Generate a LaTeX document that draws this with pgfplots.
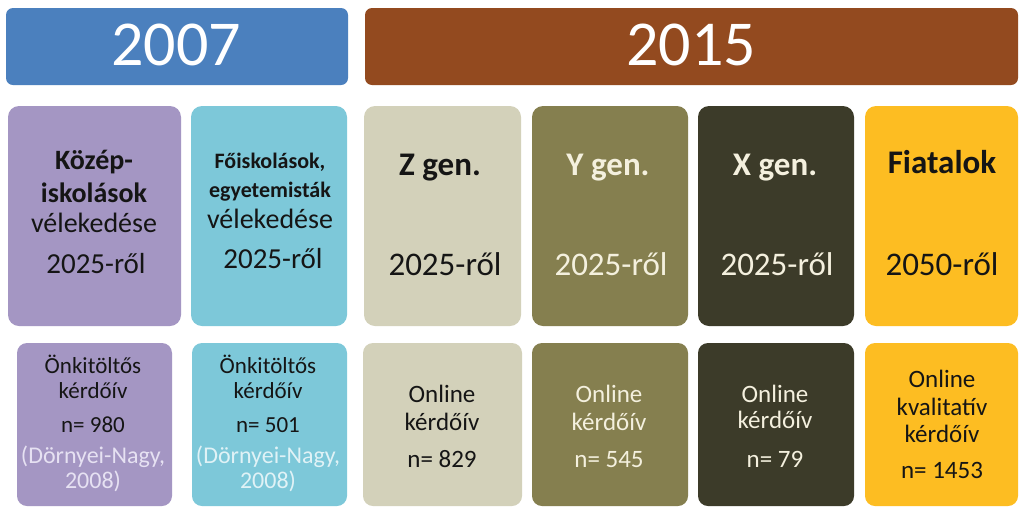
\documentclass[border=0pt]{standalone}
\usepackage{pgfplots}
\pgfplotsset{compat=1.18}
\usepackage{fontspec}
\setmainfont{Carlito}
\definecolor{cBlue}{HTML}{4B80BE}
\definecolor{cBrown}{HTML}{934A1F}
\definecolor{cPurple}{HTML}{A496C3}
\definecolor{cCyan}{HTML}{7DC8D9}
\definecolor{cZ}{HTML}{D3D1BA}
\definecolor{cY}{HTML}{857F4F}
\definecolor{cX}{HTML}{3C3B29}
\definecolor{cF}{HTML}{FDBD22}
\definecolor{tDark}{HTML}{151515}
\definecolor{tLight}{HTML}{F4F0DE}
\definecolor{tRefP}{HTML}{E6E1F2}
\definecolor{tRefC}{HTML}{E0F2F6}
\newcommand{\fs}[1]{\fontsize{#1}{#1}\selectfont}
\begin{document}
\begin{tikzpicture}
\begin{axis}[
  width=1020pt, height=507pt, scale only axis,
  xmin=0, xmax=1020, ymin=0, ymax=507, y dir=reverse,
  hide axis, clip=true,
]
% background
\addplot[fill=white, draw=none] coordinates {(0,0) (1020,0) (1020,507) (0,507)} -- cycle;
% header boxes
\addplot[fill=cBlue, draw=none, rounded corners=7pt] coordinates {(177,8) (348,8) (348,85) (6,85) (6,8)} -- cycle;
\addplot[fill=cBrown, draw=none, rounded corners=7pt] coordinates {(690,8) (1018,8) (1018,85) (365,85) (365,8)} -- cycle;
% row 2 boxes
\addplot[fill=cPurple, draw=none, rounded corners=11pt] coordinates {(94,106) (181,106) (181,326) (8,326) (8,106)} -- cycle;
\addplot[fill=cCyan, draw=none, rounded corners=11pt] coordinates {(269,106) (347,106) (347,326) (191,326) (191,106)} -- cycle;
\addplot[fill=cZ, draw=none, rounded corners=11pt] coordinates {(442,106) (521,106) (521,326) (364,326) (364,106)} -- cycle;
\addplot[fill=cY, draw=none, rounded corners=11pt] coordinates {(610,106) (688,106) (688,326) (532,326) (532,106)} -- cycle;
\addplot[fill=cX, draw=none, rounded corners=11pt] coordinates {(776,106) (854,106) (854,326) (698,326) (698,106)} -- cycle;
\addplot[fill=cF, draw=none, rounded corners=11pt] coordinates {(941,106) (1018,106) (1018,326) (865,326) (865,106)} -- cycle;
% row 3 boxes
\addplot[fill=cPurple, draw=none, rounded corners=10pt] coordinates {(94,343) (172,343) (172,506) (17,506) (17,343)} -- cycle;
\addplot[fill=cCyan, draw=none, rounded corners=10pt] coordinates {(269,343) (347,343) (347,506) (192,506) (192,343)} -- cycle;
\addplot[fill=cZ, draw=none, rounded corners=10pt] coordinates {(442,343) (522,343) (522,506) (363,506) (363,343)} -- cycle;
\addplot[fill=cY, draw=none, rounded corners=10pt] coordinates {(610,343) (688,343) (688,506) (532,506) (532,343)} -- cycle;
\addplot[fill=cX, draw=none, rounded corners=10pt] coordinates {(776,343) (854,343) (854,506) (698,506) (698,343)} -- cycle;
\addplot[fill=cF, draw=none, rounded corners=10pt] coordinates {(941,343) (1018,343) (1018,506) (865,506) (865,343)} -- cycle;

% header text
\node[anchor=base, text=white, font=\fs{64}] at (axis cs:176,65) {2007};
\node[anchor=base, text=white, font=\fs{64}] at (axis cs:691,65) {2015};

% row 2 text
\node[anchor=base, text=tDark, font=\fs{28}\bfseries] at (axis cs:94,169) {Közép-};
\node[anchor=base, text=tDark, font=\fs{28}\bfseries] at (axis cs:94,202) {iskolások};
\node[anchor=base, text=tDark, font=\fs{28}] at (axis cs:94,232) {vélekedése};
\node[anchor=base, text=tDark, font=\fs{29}] at (axis cs:96,273) {2025-ről};

\node[anchor=base, text=tDark, font=\fs{22}\bfseries] at (axis cs:270,168) {Főiskolások,};
\node[anchor=base, text=tDark, font=\fs{22}\bfseries] at (axis cs:270,197) {egyetemisták};
\node[anchor=base, text=tDark, font=\fs{28}] at (axis cs:270,228) {vélekedése};
\node[anchor=base, text=tDark, font=\fs{29}] at (axis cs:273,268) {2025-ről};

\node[anchor=base, text=tDark, font=\fs{33}\bfseries] at (axis cs:440,175) {Z gen.};
\node[anchor=base, text=tDark, font=\fs{33}] at (axis cs:445,275) {2025-ről};

\node[anchor=base, text=tLight, font=\fs{33}\bfseries] at (axis cs:608,175) {Y gen.};
\node[anchor=base, text=tLight, font=\fs{33}] at (axis cs:611,275) {2025-ről};

\node[anchor=base, text=tLight, font=\fs{33}\bfseries] at (axis cs:775,175) {X gen.};
\node[anchor=base, text=tLight, font=\fs{33}] at (axis cs:777,275) {2025-ről};

\node[anchor=base, text=tDark, font=\fs{33}\bfseries] at (axis cs:942,173) {Fiatalok};
\node[anchor=base, text=tDark, font=\fs{33}] at (axis cs:942,275) {2050-ről};

% row 3 text
\node[anchor=base, text=tDark, font=\fs{23}] at (axis cs:93,373) {Önkitöltős};
\node[anchor=base, text=tDark, font=\fs{23}] at (axis cs:93,398) {kérdőív};
\node[anchor=base, text=tDark, font=\fs{23}] at (axis cs:93,432) {n= 980};
\node[anchor=base, text=tRefP, font=\fs{24}] at (axis cs:93,463) {(Dörnyei-Nagy,};
\node[anchor=base, text=tRefP, font=\fs{24}] at (axis cs:93,488) {2008)};

\node[anchor=base, text=tDark, font=\fs{23}] at (axis cs:268,373) {Önkitöltős};
\node[anchor=base, text=tDark, font=\fs{23}] at (axis cs:268,398) {kérdőív};
\node[anchor=base, text=tDark, font=\fs{23}] at (axis cs:268,432) {n= 501};
\node[anchor=base, text=tRefC, font=\fs{24}] at (axis cs:268,463) {(Dörnyei-Nagy,};
\node[anchor=base, text=tRefC, font=\fs{24}] at (axis cs:268,488) {2008)};

\node[anchor=base, text=tDark, font=\fs{25}] at (axis cs:442,402) {Online};
\node[anchor=base, text=tDark, font=\fs{25}] at (axis cs:442,430) {kérdőív};
\node[anchor=base, text=tDark, font=\fs{25}] at (axis cs:442,467) {n= 829};

\node[anchor=base, text=tLight, font=\fs{25}] at (axis cs:609,402) {Online};
\node[anchor=base, text=tLight, font=\fs{25}] at (axis cs:609,430) {kérdőív};
\node[anchor=base, text=tLight, font=\fs{25}] at (axis cs:609,467) {n= 545};

\node[anchor=base, text=tLight, font=\fs{25}] at (axis cs:775,402) {Online};
\node[anchor=base, text=tLight, font=\fs{25}] at (axis cs:775,428) {kérdőív};
\node[anchor=base, text=tLight, font=\fs{25}] at (axis cs:775,467) {n= 79};

\node[anchor=base, text=tDark, font=\fs{25}] at (axis cs:942,387) {Online};
\node[anchor=base, text=tDark, font=\fs{25}] at (axis cs:942,415) {kvalitatív};
\node[anchor=base, text=tDark, font=\fs{25}] at (axis cs:942,442) {kérdőív};
\node[anchor=base, text=tDark, font=\fs{25}] at (axis cs:942,478) {n= 1453};
\end{axis}
\end{tikzpicture}
\end{document}
